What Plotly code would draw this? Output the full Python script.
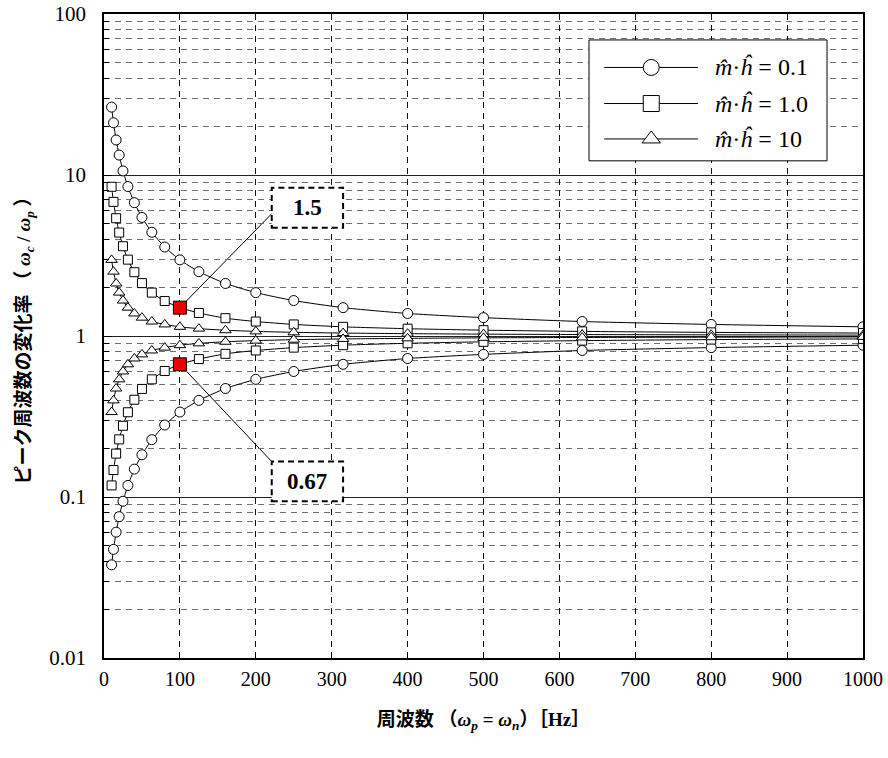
import plotly.graph_objects as go

# ---- data ----
freq = [10, 12.5, 16, 20, 25, 31.5, 40, 50, 63, 80, 100, 125, 160, 200, 250, 315, 400, 500, 630, 800, 1000]

up_01 = [26.4, 21.1, 16.5, 13.3, 10.6, 8.48, 6.73, 5.45, 4.41, 3.57, 2.97, 2.51, 2.12, 1.86, 1.66, 1.50, 1.38, 1.30, 1.23, 1.18, 1.14]
lo_01 = [0.0379, 0.0473, 0.0605, 0.0755, 0.0941, 0.118, 0.149, 0.183, 0.227, 0.280, 0.337, 0.398, 0.472, 0.538, 0.602, 0.667, 0.725, 0.769, 0.813, 0.847, 0.877]
up_1 = [8.45, 6.81, 5.39, 4.39, 3.61, 2.98, 2.49, 2.13, 1.86, 1.65, 1.50, 1.39, 1.29, 1.23, 1.18, 1.14, 1.11, 1.087, 1.068, 1.053, 1.043]
lo_1 = [0.118, 0.147, 0.186, 0.228, 0.277, 0.336, 0.402, 0.469, 0.538, 0.606, 0.667, 0.719, 0.775, 0.813, 0.847, 0.877, 0.901, 0.920, 0.936, 0.950, 0.959]
up_10 = [2.97, 2.51, 2.12, 1.86, 1.66, 1.50, 1.38, 1.30, 1.23, 1.18, 1.14, 1.111, 1.086, 1.068, 1.054, 1.043, 1.034, 1.027, 1.021, 1.017, 1.013]
lo_10 = [0.337, 0.398, 0.472, 0.538, 0.602, 0.667, 0.725, 0.769, 0.813, 0.847, 0.877, 0.900, 0.921, 0.936, 0.949, 0.959, 0.967, 0.974, 0.979, 0.983, 0.987]

hl_freq = [100, 100]
hl_vals = [1.5, 0.667]
hl_labels = ["1.5", "0.67"]

legend_labels = ["<i>m\u0302</i>·<i>ĥ</i> = 0.1", "<i>m\u0302</i>·<i>ĥ</i> = 1.0", "<i>m\u0302</i>·<i>ĥ</i> = 10"]
symbols = ["circle", "square", "triangle-up"]

y_major = [0.01, 0.1, 1, 10, 100]
y_major_text = ["0.01", "0.1", "1", "10", "100"]
y_minor = [m * d for d in [0.01, 0.1, 1, 10] for m in range(2, 10)]

SERIF = "Liberation Serif"
JP = "Liberation Serif, Noto Sans CJK JP"

fig = go.Figure()

series = [(up_01, lo_01, "circle", 10), (up_1, lo_1, "square", 9), (up_10, lo_10, "triangle-up", 10)]
for up, lo, sym, sz in series:
    for vals in (up, lo):
        fig.add_trace(go.Scatter(
            x=freq, y=vals, mode="lines+markers",
            line=dict(color="black", width=1, shape="spline", smoothing=0.6),
            marker=dict(symbol=sym, size=sz, color="white", line=dict(color="black", width=1)),
            showlegend=False, hoverinfo="skip"))

fig.add_trace(go.Scatter(
    x=hl_freq, y=hl_vals, mode="markers",
    marker=dict(symbol="square", size=13, color="#ee0000", line=dict(color="black", width=1)),
    showlegend=False, hoverinfo="skip"))

# ---- custom legend on overlay axes (0..1 space) ----
bx0, bx1, by0, by1 = 0.639, 0.9526, 0.772, 0.9597
rows_y = [0.917, 0.861, 0.806]
lx0, lx1, mx = 0.659, 0.7826, 0.721
fig.add_trace(go.Scatter(
    x=[bx0, bx1, bx1, bx0, bx0], y=[by0, by0, by1, by1, by0],
    mode="lines", fill="toself", fillcolor="white",
    line=dict(color="black", width=1), xaxis="x2", yaxis="y2",
    showlegend=False, hoverinfo="skip"))
for ry, sym in zip(rows_y, symbols):
    fig.add_trace(go.Scatter(x=[lx0, lx1], y=[ry, ry], mode="lines",
                             line=dict(color="black", width=1), xaxis="x2", yaxis="y2",
                             showlegend=False, hoverinfo="skip"))
    fig.add_trace(go.Scatter(x=[mx], y=[ry], mode="markers",
                             marker=dict(symbol=sym, size=16, color="white", line=dict(color="black", width=1)),
                             xaxis="x2", yaxis="y2", showlegend=False, hoverinfo="skip"))

annotations = []
for ry, lab in zip(rows_y, legend_labels):
    annotations.append(dict(x=0.802, y=ry, xref="paper", yref="paper", text=lab,
                            xanchor="left", yanchor="middle", showarrow=False,
                            font=dict(family=SERIF, size=24, color="black")))

# ---- callout boxes ----
boxes = [
    dict(x0=221, x1=315, y0=4.71, y1=8.34, lx=221, ly=5.75, tcy=0.797),
    dict(x0=221, x1=315, y0=0.0942, y1=0.166, lx=221, ly=0.166, tcy=-0.903),
]
shapes = []
for b, fv, v, lab in zip(boxes, hl_freq, hl_vals, hl_labels):
    shapes.append(dict(type="line", xref="x", yref="y", x0=fv, y0=v, x1=b["lx"], y1=b["ly"],
                       line=dict(color="black", width=1), layer="below"))
    shapes.append(dict(type="rect", xref="x", yref="y", x0=b["x0"], x1=b["x1"], y0=b["y0"], y1=b["y1"],
                       line=dict(color="black", width=2, dash="6px,4px"), fillcolor="white", layer="above"))
    annotations.append(dict(x=(b["x0"] + b["x1"]) / 2, y=b["tcy"], xref="x", yref="y", text="<b>%s</b>" % lab,
                            showarrow=False, xanchor="center", yanchor="middle",
                            font=dict(family=SERIF, size=23, color="black")))

fig.update_layout(
    width=888, height=758,
    margin=dict(l=104, r=25, t=14, b=100),
    paper_bgcolor="white", plot_bgcolor="white",
    showlegend=False,
    font=dict(family=JP, color="black"),
    shapes=shapes, annotations=annotations,
    xaxis=dict(
        range=[0, 1000], dtick=100, tick0=0, automargin=False,
        showgrid=True, gridcolor="#111", griddash="6px,5px", gridwidth=1,
        ticks="inside", ticklen=6, tickcolor="black",
        showline=True, linecolor="black", linewidth=1.5, mirror=True, zeroline=False,
        tickfont=dict(family=SERIF, size=20, color="black"),
        ticklabelstandoff=2, ticklabeloverflow="allow",
        title=dict(text="<b>周波数 （<i>ω<sub>p</sub></i> = <i>ω<sub>n</sub></i>）［Hz］</b>",
                   font=dict(family=JP, size=19, color="black"), standoff=24),
    ),
    yaxis=dict(
        type="log", range=[-2, 2], automargin=False,
        tickvals=y_major, ticktext=y_major_text,
        showgrid=True, gridcolor="#222", gridwidth=1,
        ticks="inside", ticklen=8, tickcolor="black",
        minor=dict(tickmode="array", tickvals=y_minor, showgrid=True, gridcolor="#707070",
                   griddash="6px,5px", gridwidth=1, ticks="inside", ticklen=5, tickcolor="black"),
        showline=True, linecolor="black", linewidth=1.5, mirror=True, zeroline=False,
        tickfont=dict(family=SERIF, size=21, color="black"),
        ticklabelstandoff=12, ticklabeloverflow="allow",
        title=dict(text="<b>ピーク周波数の変化率 （ <i>ω<sub>c</sub></i> / <i>ω<sub>p</sub></i> ）</b>",
                   font=dict(family=JP, size=19, color="black"), standoff=14),
    ),
    xaxis2=dict(overlaying="x", range=[0, 1], visible=False, fixedrange=True),
    yaxis2=dict(overlaying="y", range=[0, 1], visible=False, fixedrange=True),
)

fig.write_html("out.html", config={"displayModeBar": False},
               post_script="document.body.style.margin='0';")
